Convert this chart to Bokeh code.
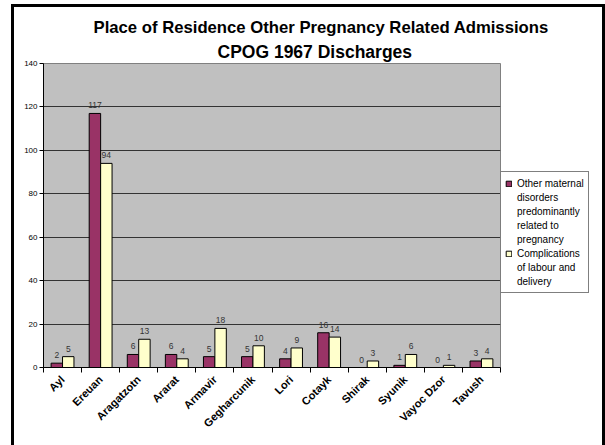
import numpy as np
from bokeh.plotting import figure
from bokeh.models import ColumnDataSource, FixedTicker, Range1d, Legend, LegendItem, Title
from bokeh.transform import dodge
from bokeh.embed import file_html
from bokeh.resources import INLINE
from bokeh.core.properties import value

categories = ["Ayl", "Ereuan", "Aragatzotn", "Ararat", "Armavir", "Gegharcunik",
              "Lori", "Cotayk", "Shirak", "Syunik", "Vayoc Dzor", "Tavush"]
maternal = [2, 117, 6, 6, 5, 5, 4, 16, 0, 1, 0, 3]
labour = [5, 94, 13, 4, 18, 10, 9, 14, 3, 6, 1, 4]
y_ticks = [0, 20, 40, 60, 80, 100, 120, 140]
series_names = ["Other maternal\ndisorders\npredominantly\nrelated to\npregnancy",
                "Complications\nof labour and\ndelivery"]
title_lines = ["Place of Residence Other Pregnancy Related Admissions",
               "CPOG 1967 Discharges"]

FONT = "Liberation Sans"
idx = list(range(len(categories)))
src = ColumnDataSource(dict(x=idx, a=maternal, b=labour,
                            at=[str(v) for v in maternal], bt=[str(v) for v in labour]))

p = figure(frame_width=457, frame_height=304, x_range=Range1d(-0.5, len(categories) - 0.5),
           y_range=Range1d(0, 140), output_backend="svg", toolbar_location=None,
           min_border_left=43, min_border_right=104, min_border_top=63, min_border_bottom=77,
           background_fill_color="#C0C0C0", outline_line_color="#808080",
           border_fill_color="white")
p.title.text = title_lines[0]
p.title.align = "left"
p.title.offset = 50
p.title.text_font = FONT
p.title.text_font_size = "16.7px"
p.title.text_font_style = "bold"
p.title.text_color = "black"
p.title.standoff = 1
t2 = Title(text=title_lines[1], align="left", offset=174, text_font=FONT,
           text_font_size="17.5px", text_font_style="bold", text_color="black", standoff=4)
p.add_layout(t2, "above")

bw = 0.30
r1 = p.vbar(x=dodge("x", -bw / 2), top="a", width=bw, source=src,
            fill_color="#993366", line_color="black", line_width=1)
r2 = p.vbar(x=dodge("x", bw / 2), top="b", width=bw, source=src,
            fill_color="#FFFFCC", line_color="black", line_width=1)
p.text(x=dodge("x", -bw / 2), y="a", text="at", source=src, y_offset=-5,
       text_align="center", text_baseline="bottom", text_font=value(FONT),
       text_font_size="8.5px", text_color="#333333")
p.text(x=dodge("x", bw / 2), y="b", text="bt", source=src, y_offset=-5,
       text_align="center", text_baseline="bottom", text_font=value(FONT),
       text_font_size="8.5px", text_color="#333333")

p.xgrid.visible = False
p.ygrid.grid_line_color = "#333333"
p.ygrid.ticker = FixedTicker(ticks=y_ticks)

p.xaxis.ticker = FixedTicker(ticks=idx, minor_ticks=[i - 0.5 for i in range(len(categories) + 1)])
p.xaxis.major_label_overrides = {i: c for i, c in enumerate(categories)}
p.xaxis.major_tick_line_color = None
p.xaxis.minor_tick_line_color = "black"
p.xaxis.minor_tick_out = 5
p.xaxis.minor_tick_in = 0
p.xaxis.major_label_orientation = np.pi / 4
p.xaxis.major_label_text_font = FONT
p.xaxis.major_label_text_font_size = "11px"
p.xaxis.major_label_text_font_style = "bold"
p.xaxis.major_label_text_color = "black"
p.xaxis.major_label_standoff = 4
p.xaxis.axis_line_color = "black"

p.yaxis.ticker = FixedTicker(ticks=y_ticks)
p.yaxis.major_tick_out = 4
p.yaxis.major_tick_in = 0
p.yaxis.minor_tick_line_color = None
p.yaxis.major_label_text_font = FONT
p.yaxis.major_label_text_font_size = "8px"
p.yaxis.major_label_text_color = "black"
p.yaxis.major_label_standoff = 2
p.yaxis.axis_line_color = "black"

# invisible renderer used for continuation lines of wrapped legend labels
blank = p.vbar(x=[], top=[], width=bw, fill_alpha=0, line_alpha=0)
items = []
for name, rend in zip(series_names, [r1, r2]):
    lines = name.split("\n")
    items.append(LegendItem(label=lines[0], renderers=[rend]))
    for ln in lines[1:]:
        items.append(LegendItem(label=ln, renderers=[blank]))

legend = Legend(items=items, location=(0, 74), border_line_color="black", border_line_width=1,
                label_text_font=FONT, label_text_font_size="10px", glyph_width=7,
                glyph_height=7, label_standoff=5, padding=4, spacing=0, margin=3,
                label_height=14, label_text_line_height=1.0, label_text_color="black")
p.add_layout(legend, "right")
p.stylesheets = [":host::after { content: ''; position: absolute; left: 11px; top: 4px; "
                 "width: 588px; height: 460px; border: 3px solid black; "
                 "pointer-events: none; z-index: 10; }"]

open("out.html", "w").write(file_html(p, INLINE))
